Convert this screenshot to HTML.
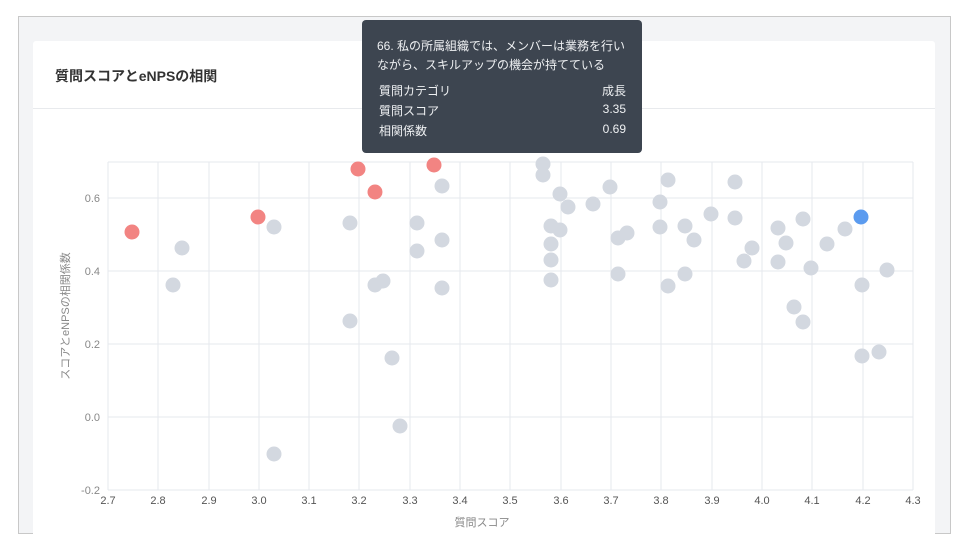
<!DOCTYPE html><html><head><meta charset="utf-8"><style>
body{margin:0;width:965px;height:539px;background:#fff;font-family:"Liberation Sans","Noto Sans CJK JP",sans-serif;position:relative;overflow:hidden}
.frame{position:absolute;left:18px;top:16px;width:931px;height:516px;border:1px solid #c8c8c8;background:#f3f4f6}
.card{position:absolute;left:33px;top:41px;width:902px;height:500px;background:#fff;border-radius:3px}
.title{position:absolute;left:55px;top:66px;font-size:14px;font-weight:bold;color:#333}
.div{position:absolute;left:33px;top:108px;width:902px;height:1px;background:#e8eaed}
.tip{position:absolute;left:362px;top:20px;width:280px;height:133px;background:#3d4550;border-radius:4px;color:#eef0f2;font-size:12px}
.tip div{position:absolute}
</style></head><body>
<div class="frame"></div><div class="card"></div>
<div class="title">質問スコアとeNPSの相関</div><div class="div"></div>
<svg width="965" height="539" style="position:absolute;left:0;top:0" font-family="Liberation Sans,Noto Sans CJK JP,sans-serif">
<g stroke="#e6e9ee" stroke-width="1">
<line x1="108" y1="162" x2="913" y2="162"/><line x1="108" y1="198" x2="913" y2="198"/><line x1="108" y1="271" x2="913" y2="271"/><line x1="108" y1="344" x2="913" y2="344"/><line x1="108" y1="417" x2="913" y2="417"/><line x1="108" y1="490" x2="913" y2="490"/>
<line x1="108" y1="162" x2="108" y2="490"/><line x1="158" y1="162" x2="158" y2="490"/><line x1="209" y1="162" x2="209" y2="490"/><line x1="259" y1="162" x2="259" y2="490"/><line x1="309" y1="162" x2="309" y2="490"/><line x1="359" y1="162" x2="359" y2="490"/><line x1="410" y1="162" x2="410" y2="490"/><line x1="460" y1="162" x2="460" y2="490"/><line x1="510" y1="162" x2="510" y2="490"/><line x1="561" y1="162" x2="561" y2="490"/><line x1="611" y1="162" x2="611" y2="490"/><line x1="661" y1="162" x2="661" y2="490"/><line x1="712" y1="162" x2="712" y2="490"/><line x1="762" y1="162" x2="762" y2="490"/><line x1="812" y1="162" x2="812" y2="490"/><line x1="863" y1="162" x2="863" y2="490"/><line x1="913" y1="162" x2="913" y2="490"/>
</g>
<g font-size="11" fill="#888" text-anchor="end"><text x="100" y="202">0.6</text><text x="100" y="275">0.4</text><text x="100" y="348">0.2</text><text x="100" y="421">0.0</text><text x="100" y="494">-0.2</text></g>
<g font-size="11" fill="#555" text-anchor="middle"><text x="108" y="504">2.7</text><text x="158" y="504">2.8</text><text x="209" y="504">2.9</text><text x="259" y="504">3.0</text><text x="309" y="504">3.1</text><text x="359" y="504">3.2</text><text x="410" y="504">3.3</text><text x="460" y="504">3.4</text><text x="510" y="504">3.5</text><text x="561" y="504">3.6</text><text x="611" y="504">3.7</text><text x="661" y="504">3.8</text><text x="712" y="504">3.9</text><text x="762" y="504">4.0</text><text x="812" y="504">4.1</text><text x="863" y="504">4.2</text><text x="913" y="504">4.3</text></g>
<text x="482" y="526" font-size="11" fill="#888" text-anchor="middle">質問スコア</text>
<text transform="translate(69,316) rotate(-90)" font-size="11" fill="#888" text-anchor="middle">スコアとeNPSの相関係数</text>
<g fill="#d3d8e0">
<circle cx="182" cy="248" r="7.5"/><circle cx="173" cy="285" r="7.5"/><circle cx="274" cy="227" r="7.5"/><circle cx="350" cy="223" r="7.5"/><circle cx="350" cy="321" r="7.5"/><circle cx="375" cy="285" r="7.5"/><circle cx="383" cy="281" r="7.5"/><circle cx="392" cy="358" r="7.5"/><circle cx="400" cy="426" r="7.5"/><circle cx="274" cy="454" r="7.5"/><circle cx="417" cy="223" r="7.5"/><circle cx="417" cy="251" r="7.5"/><circle cx="442" cy="186" r="7.5"/><circle cx="442" cy="240" r="7.5"/><circle cx="442" cy="288" r="7.5"/><circle cx="543" cy="164" r="7.5"/><circle cx="543" cy="175" r="7.5"/><circle cx="560" cy="194" r="7.5"/><circle cx="568" cy="207" r="7.5"/><circle cx="551" cy="226" r="7.5"/><circle cx="560" cy="230" r="7.5"/><circle cx="551" cy="244" r="7.5"/><circle cx="551" cy="260" r="7.5"/><circle cx="551" cy="280" r="7.5"/><circle cx="593" cy="204" r="7.5"/><circle cx="610" cy="187" r="7.5"/><circle cx="618" cy="238" r="7.5"/><circle cx="627" cy="233" r="7.5"/><circle cx="618" cy="274" r="7.5"/><circle cx="660" cy="202" r="7.5"/><circle cx="668" cy="180" r="7.5"/><circle cx="660" cy="227" r="7.5"/><circle cx="685" cy="226" r="7.5"/><circle cx="694" cy="240" r="7.5"/><circle cx="685" cy="274" r="7.5"/><circle cx="668" cy="286" r="7.5"/><circle cx="711" cy="214" r="7.5"/><circle cx="735" cy="182" r="7.5"/><circle cx="735" cy="218" r="7.5"/><circle cx="752" cy="248" r="7.5"/><circle cx="744" cy="261" r="7.5"/><circle cx="778" cy="228" r="7.5"/><circle cx="786" cy="243" r="7.5"/><circle cx="803" cy="219" r="7.5"/><circle cx="778" cy="262" r="7.5"/><circle cx="811" cy="268" r="7.5"/><circle cx="794" cy="307" r="7.5"/><circle cx="803" cy="322" r="7.5"/><circle cx="845" cy="229" r="7.5"/><circle cx="827" cy="244" r="7.5"/><circle cx="862" cy="285" r="7.5"/><circle cx="887" cy="270" r="7.5"/><circle cx="862" cy="356" r="7.5"/><circle cx="879" cy="352" r="7.5"/>
</g>
<g fill="#f28482"><circle cx="132" cy="232" r="7.5"/><circle cx="258" cy="217" r="7.5"/><circle cx="358" cy="169" r="7.5"/><circle cx="375" cy="192" r="7.5"/><circle cx="434" cy="165" r="7.5"/></g>
<circle cx="861" cy="217" r="7.5" fill="#5b9bef"/>
</svg>
<div class="tip">
<div style="left:15px;top:17px">66. 私の所属組織では、メンバーは業務を行い</div>
<div style="left:15px;top:36px">ながら、スキルアップの機会が持てている</div>
<div style="left:17px;top:62px">質問カテゴリ</div><div style="right:16px;top:62px">成長</div>
<div style="left:17px;top:82px">質問スコア</div><div style="right:16px;top:82px">3.35</div>
<div style="left:17px;top:102px">相関係数</div><div style="right:16px;top:102px">0.69</div>
</div>
</body></html>
